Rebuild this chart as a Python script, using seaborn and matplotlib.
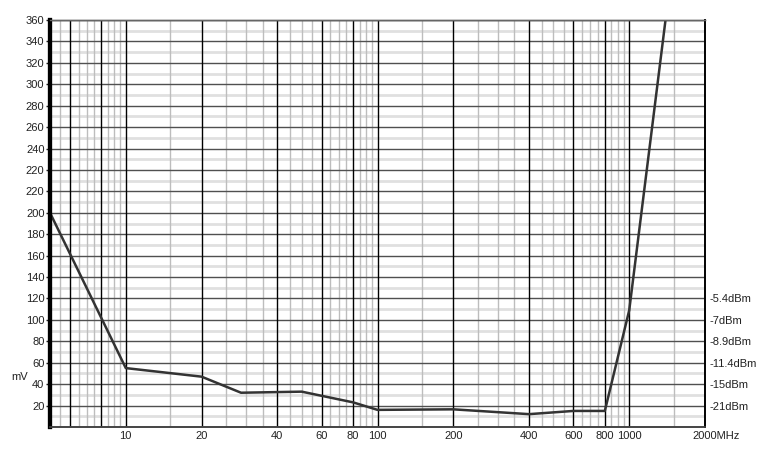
import numpy as np
import pandas as pd
import matplotlib
matplotlib.use("Agg")
import matplotlib.pyplot as plt
import matplotlib.transforms as mtransforms
import seaborn as sns

# frequency (MHz) and level (in grid units, mV scale)
freq = [5, 10, 20, 28.7, 50, 80, 100, 200, 400, 600, 800, 1000, 1500]
level = [200, 55, 47, 32, 33, 23, 16, 16.5, 12, 15, 15, 109, 440]

y_ticks = list(range(20, 381, 20))
y_labels = ["20", "40", "60", "80", "100", "120", "140", "160", "180", "200",
            "220", "220", "240", "260", "280", "300", "320", "340", "360"]
x_ticks = [10, 20, 40, 60, 80, 100, 200, 400, 600, 800, 1000, 2000]
x_labels = ["10", "20", "40", "60", "80", "100", "200", "400", "600", "800", "1000", "2000MHz"]
dbm_ticks = [20, 40, 60, 80, 100, 120]
dbm_labels = ["-21dBm", "-15dBm", "-11.4dBm", "-8.9dBm", "-7dBm", "-5.4dBm"]

# black verticals and light verticals
x_major_grid = [6, 8, 10, 20, 40, 60, 80, 100, 200, 400, 600, 800, 1000]
x_minor_grid = [5.5, 6.5, 7, 7.5, 8.5, 9, 9.5,
                15, 25, 30, 35, 45, 50, 55, 65, 70, 75, 85, 90, 95,
                150, 250, 300, 350, 450, 500, 550, 650, 700, 750, 850, 900, 950,
                1500]

sns.set_theme(style="white")
plt.rcParams["font.family"] = ["Liberation Sans", "DejaVu Sans"]

df = pd.DataFrame({"freq": freq, "level": level})

fig = plt.figure(figsize=(7.58, 4.54), dpi=100)
ax = fig.add_axes([50 / 758, 27 / 454, 655 / 758, 407 / 454])

ax.set_xscale("log")
ax.set_xlim(5, 2000)
ax.set_ylim(0, 380)

# horizontal grid
for y in y_ticks:
    ax.axhline(y, color="#505050", lw=1.0, zorder=1)
for y in range(10, 380, 20):
    ax.axhline(y, color="#e0e0e0", lw=2.0, zorder=0.5)
# vertical grid
for x in x_minor_grid:
    ax.axvline(x, color="#bdbdbd", lw=1.0, zorder=0.8)
for x in x_major_grid:
    ax.axvline(x, color="black", lw=1.0, zorder=1.2)

sns.lineplot(data=df, x="freq", y="level", ax=ax, color="#333333",
             linewidth=1.8, zorder=3)

ax.set_xticks(x_ticks)
ax.set_xticklabels(x_labels)
ax.xaxis.set_minor_locator(matplotlib.ticker.NullLocator())
ax.set_yticks(y_ticks)
ax.set_yticklabels(y_labels)
ax.tick_params(axis="x", length=0, pad=3, labelsize=8, colors="#222222")
ax.tick_params(axis="y", length=3, width=1, pad=1, labelsize=8,
               colors="#222222", direction="out", left=True)

# shift "2000MHz" so that "2000" sits on its tick
last = ax.get_xticklabels()[-1]
last.set_horizontalalignment("left")
last.set_transform(last.get_transform() +
                   mtransforms.ScaledTranslation(-13 / 100, 0, fig.dpi_scale_trans))

ax.set_xlabel("")
ax.set_ylabel("mV", rotation=0, fontsize=8, color="#222222", labelpad=10)
ax.yaxis.set_label_coords(-0.046, 0.11)

ax2 = ax.twinx()
ax2.set_ylim(0, 380)
ax2.set_yticks(dbm_ticks)
ax2.set_yticklabels(dbm_labels)
ax2.tick_params(axis="y", length=0, pad=3, labelsize=8, colors="#222222")
ax2.grid(False)

for a in (ax, ax2):
    a.spines["left"].set_color("black")
    a.spines["left"].set_linewidth(3)
    a.spines["right"].set_color("black")
    a.spines["right"].set_linewidth(1.2)
    a.spines["bottom"].set_color("#444444")
    a.spines["bottom"].set_linewidth(1.2)
    a.spines["top"].set_color("#666666")
    a.spines["top"].set_linewidth(1.0)

fig.savefig("out.png", dpi=100)
